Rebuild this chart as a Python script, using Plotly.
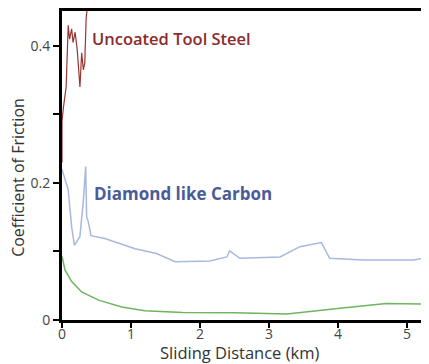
import plotly.graph_objects as go

# Uncoated Tool Steel
steel_x = [0, 0.0, 0.02, 0.06, 0.09, 0.11, 0.14, 0.16, 0.19, 0.22, 0.26, 0.285, 0.31, 0.33, 0.35, 0.37]
steel_y = [0.23, 0.29, 0.31, 0.34, 0.43, 0.41, 0.425, 0.405, 0.42, 0.395, 0.34, 0.39, 0.365, 0.375, 0.44, 0.46]

# Diamond like Carbon
dlc_x = [0, 0.09, 0.14, 0.18, 0.26, 0.31, 0.343, 0.357, 0.38, 0.42, 0.62, 0.85, 1.06, 1.37, 1.64, 2.14,
         2.39, 2.43, 2.58, 3.16, 3.45, 3.76, 3.88, 4.37, 5.09, 5.32]
dlc_y = [0.22, 0.19, 0.136, 0.109, 0.122, 0.175, 0.224, 0.151, 0.144, 0.123, 0.119, 0.111, 0.104, 0.097,
         0.085, 0.086, 0.092, 0.101, 0.090, 0.092, 0.107, 0.113, 0.090, 0.0876, 0.0876, 0.0915]

# Third coating (green)
green_x = [0, 0.043, 0.14, 0.285, 0.53, 0.865, 1.2, 1.75, 2.5, 3.26, 4.03, 4.7, 5.32]
green_y = [0.093, 0.073, 0.056, 0.041, 0.029, 0.019, 0.0136, 0.011, 0.0105, 0.0088, 0.017, 0.024, 0.023]

x_ticks = [0, 1, 2, 3, 4, 5]
y_ticks = [0, 0.1, 0.2, 0.3, 0.4]
y_tick_text = ["0", "", "0.2", "", "0.4"]

x_title = "Sliding Distance (km)"
y_title = "Coefficient of Friction"

font_family = "Open Sans, Noto Sans, DejaVu Sans, sans-serif"

fig = go.Figure()
fig.add_trace(go.Scatter(x=green_x, y=green_y, mode="lines",
                         line=dict(color="#6fb45e", width=1.5), hoverinfo="skip"))
fig.add_trace(go.Scatter(x=dlc_x, y=dlc_y, mode="lines",
                         line=dict(color="#a8b8de", width=1.5), hoverinfo="skip"))
fig.add_trace(go.Scatter(x=steel_x, y=steel_y, mode="lines",
                         line=dict(color="#9a3535", width=1.2), hoverinfo="skip"))

fig.add_annotation(x=0.4, y=0.411, xref="x", yref="y", text="Uncoated Tool Steel",
                   showarrow=False, xanchor="left", yanchor="middle",
                   font=dict(family=font_family, size=16.5, color="#8b2b2b", weight=600))
fig.add_annotation(x=0.43, y=0.184, xref="x", yref="y", text="Diamond like Carbon",
                   showarrow=False, xanchor="left", yanchor="middle",
                   font=dict(family=font_family, size=17, color="#4a5b9b", weight="bold"))

# axis titles placed as annotations to match the reference's off-centre positions
fig.add_annotation(x=0.485, y=0, xref="paper", yref="paper", text=x_title,
                   showarrow=False, xanchor="center", yanchor="middle", yshift=-32,
                   font=dict(family=font_family, size=16.5, color="#333333"))
fig.add_annotation(x=0, y=0.46, xref="paper", yref="paper", text=y_title, textangle=-90,
                   showarrow=False, xanchor="center", yanchor="middle", xshift=-44,
                   font=dict(family=font_family, size=16, color="#333333"))

# the page body adds an 8px offset, so the figure is sized and placed to compensate
fig.update_layout(
    width=421, height=356,
    margin=dict(l=54, r=0, t=3, b=44),
    paper_bgcolor="white", plot_bgcolor="white",
    showlegend=False,
    font=dict(family=font_family, color="#333333"),
    xaxis=dict(range=[0, 5.32], tickvals=x_ticks, ticktext=[str(v) for v in x_ticks],
               automargin=False,
               showgrid=False, zeroline=False, showline=True, linecolor="black", linewidth=3,
               mirror=True, ticks="outside", ticklen=5, tickwidth=2, tickcolor="black",
               ticklabelstandoff=-6,
               tickfont=dict(size=14, color="#444444")),
    yaxis=dict(range=[0, 0.451], tickvals=y_ticks, ticktext=y_tick_text,
               automargin=False,
               showgrid=False, zeroline=False, showline=True, linecolor="black", linewidth=3,
               ticks="outside", ticklen=6, tickwidth=2, tickcolor="black",
               tickfont=dict(size=14, color="#444444")),
)

fig.write_html("out.html")
